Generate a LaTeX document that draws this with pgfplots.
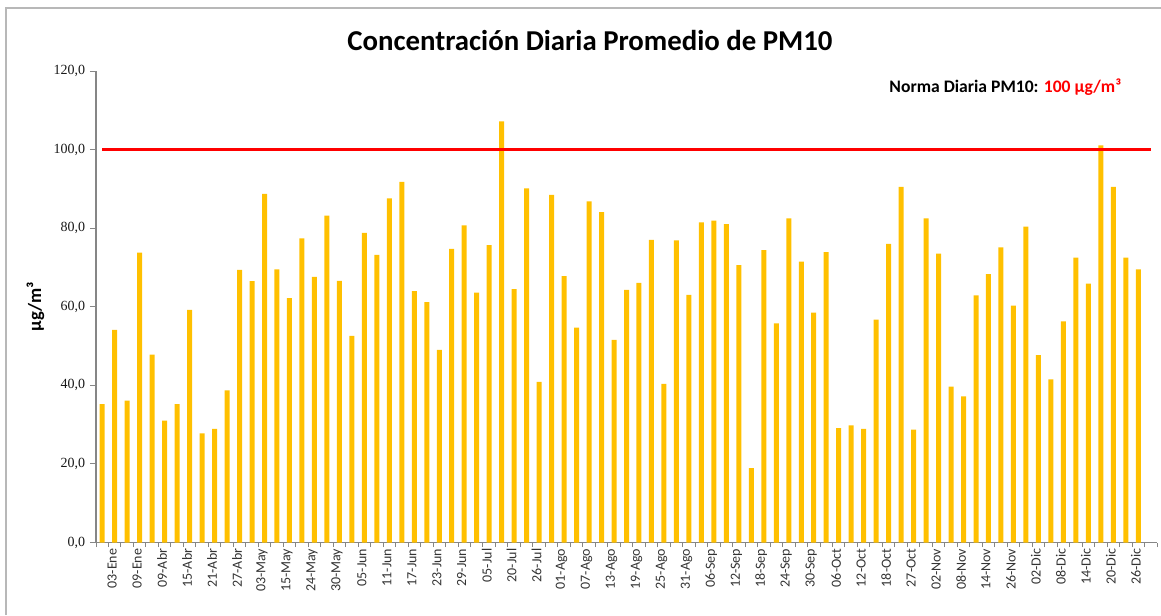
\documentclass[border=0pt]{standalone}
\usepackage{fontspec}
\setmainfont{Carlito}
\newfontfamily\serifnum{Liberation Serif}
\usepackage{pgfplots}
\pgfplotsset{compat=1.18}
\definecolor{bargold}{HTML}{FFC000}
\definecolor{axisgray}{HTML}{868686}
\begin{document}
\begin{tikzpicture}[x=1pt,y=1pt]
\useasboundingbox (0,0) rectangle (870.75,461.25);
\draw[color=black!28, line width=0.9pt] (4.5,0) -- (4.5,455.25) -- (870.75,455.25);
\begin{axis}[
  at={(72pt,54.375pt)}, anchor=south west,
  scale only axis, width=795.75pt, height=353.625pt,
  xmin=-0.5, xmax=84.5, ymin=0, ymax=120,
  axis x line=bottom, axis y line=left,
  axis line style={axisgray, line width=0.8pt, -},
  tick align=outside,
  major tick length=4.5pt,
  minor tick length=3.4pt,
  tick style={axisgray, line width=0.7pt},
  ytick={0,20,...,120},
  /pgf/number format/fixed,
  /pgf/number format/fixed zerofill,
  /pgf/number format/precision=1,
  /pgf/number format/use comma,
  /pgf/number format/assume math mode=true,
  yticklabel style={font=\serifnum\fontsize{10.5}{12}\selectfont, text=black!90, inner sep=0pt, xshift=-3.5pt},
  xtick={0,2,...,82},
  every major x tick/.style={draw=none},
  minor xtick={-0.5,0.5,...,84.5},
  xticklabels={03-Ene,09-Ene,09-Abr,15-Abr,21-Abr,27-Abr,03-May,15-May,24-May,30-May,05-Jun,11-Jun,17-Jun,23-Jun,29-Jun,05-Jul,20-Jul,26-Jul,01-Ago,07-Ago,13-Ago,19-Ago,25-Ago,31-Ago,06-Sep,12-Sep,18-Sep,24-Sep,30-Sep,06-Oct,12-Oct,18-Oct,27-Oct,02-Nov,08-Nov,14-Nov,26-Nov,02-Dic,08-Dic,14-Dic,20-Dic,26-Dic},
  xticklabel style={rotate=90, anchor=east, font=\fontsize{10.5}{12}\selectfont, text=black!80, inner sep=0pt, yshift=-7.5pt},
  ylabel={µg/m³},
  ylabel style={at={(axis description cs:-0.057,0.5)}, anchor=center, font=\bfseries\fontsize{14}{16}\selectfont},
  clip=false,
]
\addplot[ybar, bar width=3.75pt, fill=bargold, draw=none] coordinates {
(0,35.2) (1,54.1) (2,36.1) (3,73.8) (4,47.8) (5,31.0) (6,35.2) (7,59.2) (8,27.8) (9,28.9)
(10,38.7) (11,69.4) (12,66.5) (13,88.7) (14,69.5) (15,62.2) (16,77.4) (17,67.6) (18,83.2) (19,66.6)
(20,52.6) (21,78.8) (22,73.2) (23,87.6) (24,91.8) (25,64.0) (26,61.2) (27,49.0) (28,74.7) (29,80.7)
(30,63.6) (31,75.7) (32,107.2) (33,64.5) (34,90.1) (35,40.9) (36,88.5) (37,67.8) (38,54.7) (39,86.8)
(40,84.1) (41,51.6) (42,64.3) (43,66.1) (44,77.0) (45,40.4) (46,76.9) (47,63.0) (48,81.5) (49,81.9)
(50,81.0) (51,70.6) (52,18.9) (53,74.4) (54,55.8) (55,82.5) (56,71.5) (57,58.5) (58,73.9) (59,29.1)
(60,29.8) (61,28.9) (62,56.7) (63,76.0) (64,90.5) (65,28.7) (66,82.5) (67,73.5) (68,39.7) (69,37.2)
(70,62.9) (71,68.3) (72,75.1) (73,60.3) (74,80.4) (75,47.7) (76,41.5) (77,56.3) (78,72.5) (79,65.9)
(80,101.1) (81,90.5) (82,72.5) (83,69.5)
};
\addplot[red, line width=1.9pt] coordinates {(0,100) (84,100)};
\end{axis}
\node[anchor=base, font=\bfseries\fontsize{21.6}{26}\selectfont] at (442.5,423) {Concentración Diaria Promedio de PM10};
\node[anchor=base, font=\bfseries\fontsize{13.2}{15}\selectfont] at (754,391.5) {Norma Diaria PM10: \textcolor{red}{100 µg/m³}};
\end{tikzpicture}
\end{document}
